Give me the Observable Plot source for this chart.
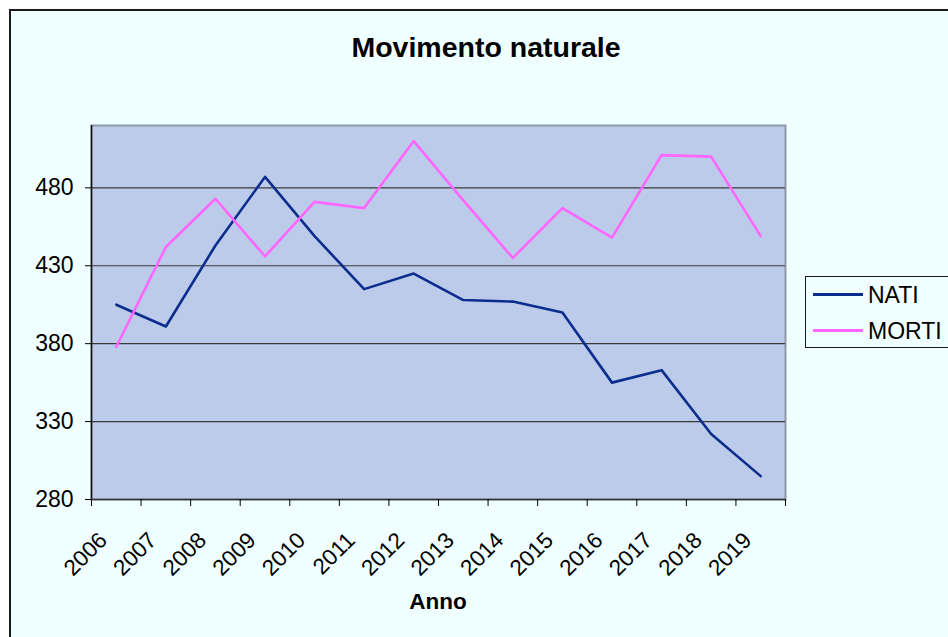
<!DOCTYPE html>
<html>
<head>
<meta charset="utf-8">
<script src="https://cdn.jsdelivr.net/npm/d3@7"></script>
<script src="https://cdn.jsdelivr.net/npm/@observablehq/plot@0.6"></script>
<style>
  html, body { margin: 0; padding: 0; background: #ffffff; }
  body { width: 948px; height: 637px; overflow: hidden; position: relative; font-family: "Liberation Sans", Arial, sans-serif; }
  #frame { position: absolute; left: 9px; top: 9px; width: 960px; height: 660px; border-left: 2px solid #1a1a1a; border-top: 2px solid #1a1a1a; background: #f0ffff; box-sizing: border-box; }
  #chart { position: absolute; left: 0; top: 0; }
  .title { position: absolute; left: 236px; width: 500px; top: 33px; text-align: center; font-size: 28.5px; line-height: 28.5px; font-weight: bold; color: #000; }
  .xlabel { position: absolute; left: 338px; width: 200px; top: 591px; text-align: center; font-size: 22.5px; line-height: 22.5px; font-weight: bold; color: #000; }
  #legend { position: absolute; left: 805px; top: 276px; width: 200px; height: 72px; border: 1px solid #1a1a1a; box-sizing: border-box; }
  .item { position: absolute; left: 0; height: 23px; font-size: 23px; line-height: 23px; color: #000; white-space: nowrap; }
  .swatch { position: absolute; left: 7px; width: 50px; height: 3px; top: 9px; }
  .lab { position: absolute; left: 62px; top: 0; }
</style>
</head>
<body>
<div id="frame"></div>
<div id="chart"></div>
<div class="title">Movimento naturale</div>
<div class="xlabel">Anno</div>
<div id="legend"></div>
<script>
const years = [2006, 2007, 2008, 2009, 2010, 2011, 2012, 2013, 2014, 2015, 2016, 2017, 2018, 2019];
const nati  = [405, 391, 443, 487, 449, 415, 425, 408, 407, 400, 355, 363, 322, 295];
const morti = [378, 442, 473, 436, 471, 467, 510, 472, 435, 467, 448, 501, 500, 449];
const seriesNames = ["NATI", "MORTI"];
const seriesColors = ["#0b2d8e", "#ff66ff"];
const yTicks = [280, 330, 380, 430, 480];

const rows = years.flatMap((year, i) => [
  {i, year, series: "NATI", value: nati[i]},
  {i, year, series: "MORTI", value: morti[i]}
]);

const chart = Plot.plot({
  width: 948,
  height: 637,
  marginLeft: 91,
  marginRight: 163,
  marginTop: 125,
  marginBottom: 138,
  style: {background: "transparent", fontFamily: "'Liberation Sans', Arial, sans-serif", fontSize: "23px", color: "#000", overflow: "visible"},
  x: {type: "linear", domain: [0, years.length]},
  y: {domain: [280, 520]},
  color: {domain: seriesNames, range: seriesColors},
  marks: [
    Plot.frame({fill: "#bccbea", stroke: "#8d98a8", strokeWidth: 2}),
    Plot.ruleY(yTicks.slice(1), {stroke: "#3a3a3a", strokeWidth: 1.2}),
    Plot.lineY(rows, {x: d => d.i + 0.5, y: "value", z: "series", stroke: "series", strokeWidth: 2.6}),
    Plot.ruleX([0], {stroke: "#111", strokeWidth: 1.5}),
    Plot.ruleY([280], {stroke: "#333", strokeWidth: 1.5}),
    Plot.axisY({ticks: yTicks, tickSize: 6, tickPadding: 12, fontSize: 23, label: null}),
    Plot.axisX({ticks: d3.range(years.length + 1), tickSize: 7, tickFormat: () => "", label: null}),
    Plot.axisX({ticks: years.map((_, i) => i + 0.5), tickSize: 0, tickPadding: 37, dx: -13, tickRotate: -45, fontSize: 22.5,
      tickFormat: t => String(years[Math.floor(t)]), label: null})
  ]
});
document.getElementById("chart").appendChild(chart);

const legend = document.getElementById("legend");
seriesNames.forEach((name, k) => {
  const item = document.createElement("div");
  item.className = "item";
  item.style.top = (7 + k * 36) + "px";
  item.innerHTML = `<div class="swatch" style="background:${seriesColors[k]}"></div><div class="lab">${name}</div>`;
  legend.appendChild(item);
});
</script>
</body>
</html>
